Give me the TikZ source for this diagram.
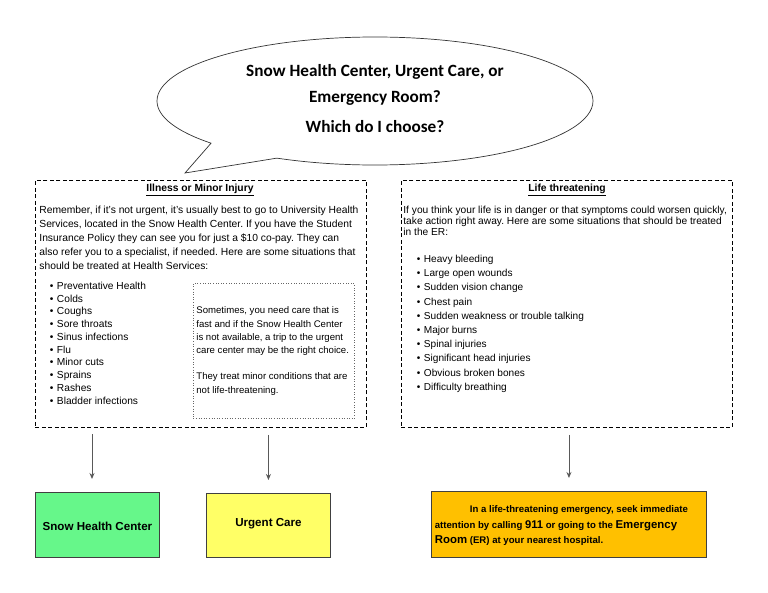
\documentclass[tikz,border=0pt]{standalone}
\usepackage{fontspec}
\setmainfont{Liberation Sans}
\newfontfamily\calibri{Carlito}
\usetikzlibrary{shapes, shapes.callouts, arrows, arrows.meta, positioning, calc}
\frenchspacing

\newcommand{\bodyfont}{\fontsize{10.3}{14}\selectfont}
\definecolor{shcgreen}{HTML}{66F78A}
\definecolor{ucyellow}{HTML}{FFFF66}
\definecolor{ergold}{HTML}{FFC000}

\begin{document}
\begin{tikzpicture} [x = 1pt, y = -1pt, >= {Stealth[length = 6pt, width = 5pt]}, line width = 0.8pt,
  panel/.style = {draw, dash pattern = on 4pt off 2.5pt, line width = 0.9pt, anchor = north west, inner sep = 0pt},
  choice/.style = {draw = black!75, line width = 0.9pt, anchor = north west, inner sep = 0pt},
  flow/.style = {->, draw = black!65, line width = 0.9pt, shorten <= 7pt, shorten >= 13pt},
  txt/.style = {inner sep = 0pt, align = left}]

\useasboundingbox (0,0) rectangle (768,593);

% speech bubble
\node [ellipse callout, draw = black!80, line width = 0.7pt, minimum width = 436pt, minimum height = 128pt,
  inner sep = 0pt, callout absolute pointer = {(185,173)}, callout pointer arc = 22] (bubble) at (375,101) {};
\node [anchor = north, inner sep = 0pt, align = center, font = \calibri\bfseries\fontsize{17.2}{28}\selectfont] (title) at (375,64)
  {Snow Health Center, Urgent Care, or\\[-2pt] Emergency Room?\\[2pt] Which do I choose?};

% the two panels
\node [panel, minimum width = 331pt, minimum height = 247pt] (illness) at (35,180) {};
\node [panel, minimum width = 331pt, minimum height = 247pt] (lifethreat) at (401,180) {};

\node [anchor = base, inner sep = 0pt, font = \bfseries\fontsize{10.3}{12}\selectfont] (illhead) at (200,192) {\underline{Illness or Minor Injury}};
\node [anchor = base, inner sep = 0pt, font = \bfseries\fontsize{10.3}{12}\selectfont] (lifehead) at (567,192) {\underline{Life threatening}};

\node [txt, anchor = north west, font = \bodyfont] (illtext) at (39,205.5)
  {Remember, if it’s not urgent, it’s usually best to go to University Health\\
   Services, located in the Snow Health Center. If you have the Student\\
   Insurance Policy they can see you for just a \$10 co-pay. They can\\
   also refer you to a specialist, if needed. Here are some situations that\\
   should be treated at Health Services:};

\node [txt, anchor = north west, font = \fontsize{10.2}{11.3}\selectfont] (lifetext) at (403,205.5)
  {If you think your life is in danger or that symptoms could worsen quickly,\\
   take action right away. Here are some situations that should be treated\\
   in the ER:};

% bullet lists
\foreach \item [count = \i] in {Preventative Health, Colds, Coughs, Sore throats, Sinus infections,
  Flu, Minor cuts, Sprains, Rashes, Bladder infections}
  \node [txt, anchor = base west, font = \fontsize{10.2}{12}\selectfont] (ill\i) at (49.5,289.5+12.75*\i-12.75) {\textbullet\hspace{3.5pt}\item};

\foreach \item [count = \i] in {Heavy bleeding, Large open wounds, Sudden vision change, Chest pain,
  Sudden weakness or trouble talking, Major burns, Spinal injuries, Significant head injuries,
  Obvious broken bones, Difficulty breathing}
  \node [txt, anchor = base west, font = \fontsize{10.1}{12}\selectfont] (life\i) at (416.5,262.5+14.2*\i-14.2) {\textbullet\hspace{3.5pt}\item};

% urgent care note
\node [draw = black!60, dotted, line width = 0.6pt, anchor = north west, inner sep = 0pt,
  minimum width = 161pt, minimum height = 135pt] (note) at (193,283) {};
\node [txt, anchor = north west, font = \fontsize{9.6}{13.2}\selectfont] (notetext) at (196,306.5)
  {Sometimes, you need care that is\\
   fast and if the Snow Health Center\\
   is not available, a trip to the urgent\\
   care center may be the right choice.\\[13.2pt]
   They treat minor conditions that are\\
   not life-threatening.};

% where to go
\node [choice, fill = shcgreen, minimum width = 124pt, minimum height = 65pt] (shc) at (35,492) {};
\node [font = \bfseries\fontsize{11.6}{13}\selectfont, inner sep = 0pt] (shclabel) at ($(shc.center)+(0,1)$) {Snow Health Center};

\node [choice, fill = ucyellow, minimum width = 124pt, minimum height = 64pt] (uc) at (206,493) {};
\node [font = \bfseries\fontsize{11.6}{13}\selectfont, inner sep = 0pt] (uclabel) at ($(uc.center)+(0,-2)$) {Urgent Care};

\node [choice, fill = ergold, minimum width = 275pt, minimum height = 66pt] (er) at (431,491) {};
\node [txt, anchor = north west, font = \bfseries\fontsize{9.6}{15.3}\selectfont] (ertext) at (434.5,505.5)
  {\hspace{35pt}In a life-threatening emergency, seek immediate\\
   attention by calling {\fontsize{11.2}{12}\selectfont 911} or going to the {\fontsize{11.4}{12}\selectfont Emergency}\\
   {\fontsize{11.4}{12}\selectfont Room} (ER) at your nearest hospital.};

% arrows
\coordinate (a1) at (92,427);
\draw [flow] (a1) -- (a1 |- shc.north);
\draw [flow] (uc.north |- illness.south) -- (uc.north);
\draw [flow] (er.north |- lifethreat.south) -- (er.north);

\end{tikzpicture}
\end{document}
